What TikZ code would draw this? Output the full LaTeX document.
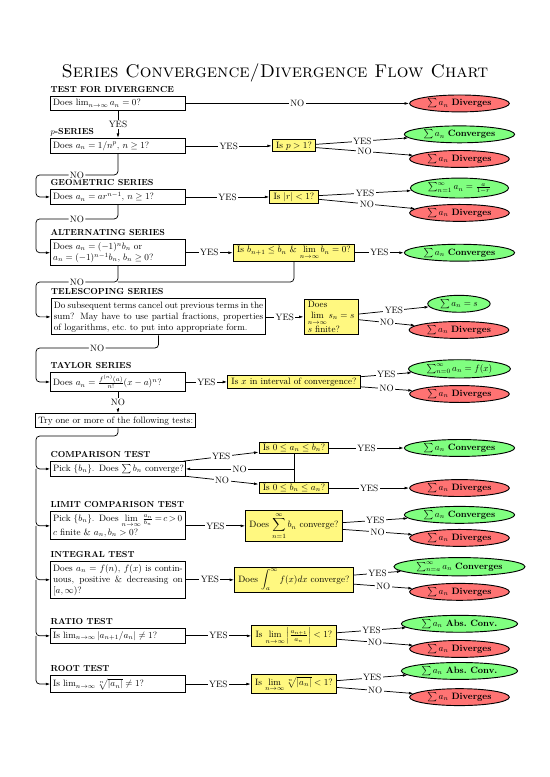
\documentclass[tikz,border=0pt]{standalone}
\usepackage{tikz}
\usetikzlibrary{arrows.meta,calc,shapes.geometric}

\begin{document}
\begin{tikzpicture}[node distance=6.72cm,
qbox/.style={rectangle,draw,line width=1pt,text width=4.95cm,align=left,inner xsep=2.5pt,inner ysep=3pt},
head/.style={anchor=base west,inner sep=0pt,yshift=4pt,font=\fontsize{9.5}{11}\selectfont\bfseries},
ask/.style={rectangle,draw,line width=1pt,fill=yellow!50,inner xsep=4pt,inner ysep=2pt,align=left},
conv/.style={ellipse,draw,line width=1pt,fill=green!50,inner xsep=3.5pt,inner ysep=1.5pt},
divg/.style={ellipse,draw,line width=1pt,fill=red!55,inner xsep=3.5pt,inner ysep=1.5pt},
ans/.style={fill=white,inner sep=1.5pt},
hook/.style={rounded corners=4pt}]

\useasboundingbox (0,0) rectangle (21.0,-29.67);

\node (title) at (10.50,-2.79) {\fontsize{20}{24}\selectfont\scshape Series Convergence/Divergence Flow Chart};

% Nodes
\node[qbox] (b1) at (4.505,-3.95) {Does $\lim_{n\to\infty} a_n=0$?};
\node[head] (h1) at (b1.north west) {TEST FOR DIVERGENCE};
\node[divg,right of = b1,xshift=6.32cm] (d1) {$\sum a_n$ \textbf{Diverges}};

\node[qbox] (b2) at (4.505,-5.57) {Does $a_n=1/n^p$, $n\geq 1$?};
\node[head] (h2) at (b2.north west) {$p$-SERIES};
\node[ask,right of = b2] (q2) {Is $p>1$?};
\node[conv,right of = q2,xshift=-.4cm,yshift=.44cm] (c2) {$\sum a_n$ \textbf{Converges}};
\node[divg,right of = q2,xshift=-.4cm,yshift=-.5cm] (d2) {$\sum a_n$ \textbf{Diverges}};

\node[qbox] (b3) at (4.505,-7.52) {Does $a_n=ar^{n-1}$, $n\geq 1$?};
\node[head] (h3) at (b3.north west) {GEOMETRIC SERIES};
\node[ask,right of = b3] (q3) {Is $|r|<1$?};
\node[conv,right of = q3,xshift=-.4cm,yshift=.34cm] (c3) {$\sum_{n=1}^{\infty}a_n=\frac{a}{1-r}$};
\node[divg,right of = q3,xshift=-.4cm,yshift=-.61cm] (d3) {$\sum a_n$ \textbf{Diverges}};

\node[qbox] (b4) at (4.505,-9.65) {Does $a_n=(-1)^nb_n$ or\\ $a_n=(-1)^{n-1}b_n$, $b_n\geq 0$?};
\node[head] (h4) at (b4.north west) {ALTERNATING SERIES};
\node[ask,right of = b4] (q4) {Is $b_{n+1}\leq b_n$ \& $\lim\limits_{n\to\infty} b_n=0$?};
\node[conv,right of = q4,xshift=-.4cm] (c4) {$\sum a_n$ \textbf{Converges}};

\node[qbox,text width=8cm,align=justify] (b5) at (6.055,-12.10) {Do subsequent terms cancel out previous terms in the\linebreak sum? May have to use partial fractions, properties\linebreak of logarithms, etc.\ to put into appropriate form.};
\node[head] (h5) at (b5.north west) {TELESCOPING SERIES};
\node[ask,right of = b5,xshift=-.13cm] (q5) {Does\\ $\lim\limits_{n\to\infty} s_n=s$\\ $s$ finite?};
\node[conv,right of = q5,xshift=-1.84cm,yshift=.5cm] (c5) {$\sum a_n=s$};
\node[divg,right of = q5,xshift=-1.84cm,yshift=-.5cm] (d5) {$\sum a_n$ \textbf{Diverges}};

\node[qbox] (b6) at (4.505,-14.585) {Does $a_n=\frac{f^{(n)}(a)}{n!}(x-a)^n$?};
\node[head] (h6) at (b6.north west) {TAYLOR SERIES};
\node[ask,right of = b6] (q6) {Is $x$ in interval of convergence?};
\node[conv,right of = q6,xshift=-.4cm,yshift=.5cm] (c6) {$\sum_{n=0}^{\infty}a_n=f(x)$};
\node[divg,right of = q6,xshift=-.4cm,yshift=-.46cm] (d6) {$\sum a_n$ \textbf{Diverges}};

\node[draw,line width=1pt,inner sep=3pt,anchor=west] (try) at (1.34,-16.07) {Try one or more of the following tests:};

\node[qbox] (b7) at (4.505,-17.906) {\mbox{Pick $\{b_n\}$. Does $\sum b_n$ converge?}};
\node[head] (h7) at (b7.north west) {COMPARISON TEST};
\node[ask,right of = b7,yshift=.8cm] (q7a) {Is $0\leq a_n\leq b_n$?};
\node[ask,right of = b7,yshift=-.73cm] (q7b) {Is $0\leq b_n\leq a_n$?};
\node[conv,right of = q7a,xshift=-.4cm] (c7) {$\sum a_n$ \textbf{Converges}};
\node[divg,right of = q7b,xshift=-.4cm] (d7) {$\sum a_n$ \textbf{Diverges}};

\node[qbox] (b8) at (4.505,-20.08) {\mbox{\thickmuskip=3mu Pick $\{b_n\}$. Does $\lim\limits_{n\to\infty}\frac{a_n}{b_n}=c>0$}\\ $c$ finite \& $a_n,b_n>0$?};
\node[head] (h8) at (b8.north west) {LIMIT COMPARISON TEST};
\node[ask,right of = b8] (q8) {Does $\displaystyle\sum_{n=1}^{\infty} b_n$ converge?};
\node[conv,right of = q8,xshift=-.4cm,yshift=.42cm] (c8) {$\sum a_n$ \textbf{Converges}};
\node[divg,right of = q8,xshift=-.4cm,yshift=-.46cm] (d8) {$\sum a_n$ \textbf{Diverges}};

\node[qbox,align=justify] (b9) at (4.505,-22.14) {Does $a_n=f(n)$, $f(x)$ is contin-\linebreak uous, positive \& decreasing on\linebreak $[a,\infty)$?};
\node[head] (h9) at (b9.north west) {INTEGRAL TEST};
\node[ask,right of = b9] (q9) {Does $\displaystyle\int_a^{\infty} f(x)dx$ converge?};
\node[conv,right of = q9,xshift=-.4cm,yshift=.5cm] (c9) {$\sum_{n=a}^{\infty}a_n$ \textbf{Converges}};
\node[divg,right of = q9,xshift=-.4cm,yshift=-.46cm] (d9) {$\sum a_n$ \textbf{Diverges}};

\node[qbox] (b10) at (4.505,-24.28) {Is $\lim_{n\to\infty}|a_{n+1}/a_n|\neq 1$?};
\node[head] (h10) at (b10.north west) {RATIO TEST};
\node[ask,right of = b10] (q10) {Is $\lim\limits_{n\to\infty}\left|\frac{a_{n+1}}{a_n}\right|<1$?};
\node[conv,right of = q10,xshift=-.4cm,yshift=.46cm] (c10) {$\sum a_n$ \textbf{Abs.\ Conv.}};
\node[divg,right of = q10,xshift=-.4cm,yshift=-.5cm] (d10) {$\sum a_n$ \textbf{Diverges}};

\node[qbox] (b11) at (4.505,-26.12) {Is $\lim_{n\to\infty}\sqrt[n]{|a_n|}\neq 1$?};
\node[head] (h11) at (b11.north west) {ROOT TEST};
\node[ask,right of = b11] (q11) {Is $\lim\limits_{n\to\infty}\sqrt[n]{|a_n|}<1$?};
\node[conv,right of = q11,xshift=-.4cm,yshift=.5cm] (c11) {$\sum a_n$ \textbf{Abs.\ Conv.}};
\node[divg,right of = q11,xshift=-.4cm,yshift=-.5cm] (d11) {$\sum a_n$ \textbf{Diverges}};

\coordinate (n2) at (1.374,-6.68);
\coordinate (n3) at (1.374,-8.36);
\coordinate (n4) at (1.374,-10.77);
\coordinate (n5) at (1.374,-13.29);
\coordinate (tr) at (1.374,-16.65);

%arcs
\path (b1) edge[-{Latex[length=5pt,width=3pt]},thick] node[ans]{NO} (d1);
\path (b1) edge[-{Latex[length=5pt,width=3pt]},thick] node[ans]{YES} (b2);

\path (b2) edge[-{Latex[length=5pt,width=3pt]},thick] node[ans]{YES} (q2);
\path (q2) edge[-{Latex[length=5pt,width=3pt]},thick] node[ans]{YES} (c2);
\path (q2) edge[-{Latex[length=5pt,width=3pt]},thick] node[ans]{NO} (d2);
\draw[-{Latex[length=5pt,width=3pt]},thick,hook] (b2.south) |- node[ans,pos=.75]{NO} (n2) |- (b3.west);

\path (b3) edge[-{Latex[length=5pt,width=3pt]},thick] node[ans]{YES} (q3);
\path (q3) edge[-{Latex[length=5pt,width=3pt]},thick] node[ans]{YES} (c3);
\path (q3) edge[-{Latex[length=5pt,width=3pt]},thick] node[ans]{NO} (d3);
\draw[-{Latex[length=5pt,width=3pt]},thick,hook] (b3.south) |- node[ans,pos=.75]{NO} (n3) |- (b4.west);

\path (b4) edge[-{Latex[length=5pt,width=3pt]},thick] node[ans]{YES} (q4);
\path (q4) edge[-{Latex[length=5pt,width=3pt]},thick] node[ans]{YES} (c4);
\draw[thick,hook] (q4.south) |- (b4.south |- n4);
\draw[-{Latex[length=5pt,width=3pt]},thick,hook] (b4.south) |- node[ans,pos=.75]{NO} (n4) |- (b5.west);

\path (b5) edge[-{Latex[length=5pt,width=3pt]},thick] node[ans]{YES} (q5);
\path (q5) edge[-{Latex[length=5pt,width=3pt]},thick] node[ans]{YES} (c5);
\path (q5) edge[-{Latex[length=5pt,width=3pt]},thick] node[ans]{NO} (d5);
\draw[-{Latex[length=5pt,width=3pt]},thick,hook] (b5.south) |- node[ans,pos=.75]{NO} (n5) |- (b6.west);

\path (b6) edge[-{Latex[length=5pt,width=3pt]},thick] node[ans]{YES} (q6);
\path (q6) edge[-{Latex[length=5pt,width=3pt]},thick] node[ans]{YES} (c6);
\path (q6) edge[-{Latex[length=5pt,width=3pt]},thick] node[ans]{NO} (d6);
\draw[-{Latex[length=5pt,width=3pt]},thick] (b6.south) -- node[ans]{NO} (b6.south |- try.north);

\draw[-{Latex[length=5pt,width=3pt]},thick,hook] (b6.south |- try.south) |- (tr) |- (b7.west);
\draw[-{Latex[length=5pt,width=3pt]},thick,hook] (b7.west -| tr) |- (b8.west);
\draw[-{Latex[length=5pt,width=3pt]},thick,hook] (b8.west -| tr) |- (b9.west);
\draw[-{Latex[length=5pt,width=3pt]},thick,hook] (b9.west -| tr) |- (b10.west);
\draw[-{Latex[length=5pt,width=3pt]},thick,hook] (b10.west -| tr) |- (b11.west);

\path (b7) edge[-{Latex[length=5pt,width=3pt]},thick] node[ans]{YES} (q7a);
\path (b7) edge[-{Latex[length=5pt,width=3pt]},thick] node[ans]{NO} (q7b);
\draw[thick] (q7a) -- (q7b);
\draw[-{Latex[length=5pt,width=3pt]},thick] (q7a.south |- b7.east) -- node[ans]{NO} (b7.east);
\path (q7a) edge[-{Latex[length=5pt,width=3pt]},thick] node[ans]{YES} (c7);
\path (q7b) edge[-{Latex[length=5pt,width=3pt]},thick] node[ans]{YES} (d7);

\path (b8) edge[-{Latex[length=5pt,width=3pt]},thick] node[ans]{YES} (q8);
\path (q8) edge[-{Latex[length=5pt,width=3pt]},thick] node[ans]{YES} (c8);
\path (q8) edge[-{Latex[length=5pt,width=3pt]},thick] node[ans]{NO} (d8);

\path (b9) edge[-{Latex[length=5pt,width=3pt]},thick] node[ans]{YES} (q9);
\path (q9) edge[-{Latex[length=5pt,width=3pt]},thick] node[ans]{YES} (c9);
\path (q9) edge[-{Latex[length=5pt,width=3pt]},thick] node[ans]{NO} (d9);

\path (b10) edge[-{Latex[length=5pt,width=3pt]},thick] node[ans]{YES} (q10);
\path (q10) edge[-{Latex[length=5pt,width=3pt]},thick] node[ans]{YES} (c10);
\path (q10) edge[-{Latex[length=5pt,width=3pt]},thick] node[ans]{NO} (d10);

\path (b11) edge[-{Latex[length=5pt,width=3pt]},thick] node[ans]{YES} (q11);
\path (q11) edge[-{Latex[length=5pt,width=3pt]},thick] node[ans]{YES} (c11);
\path (q11) edge[-{Latex[length=5pt,width=3pt]},thick] node[ans]{NO} (d11);

\end{tikzpicture}
\end{document}
